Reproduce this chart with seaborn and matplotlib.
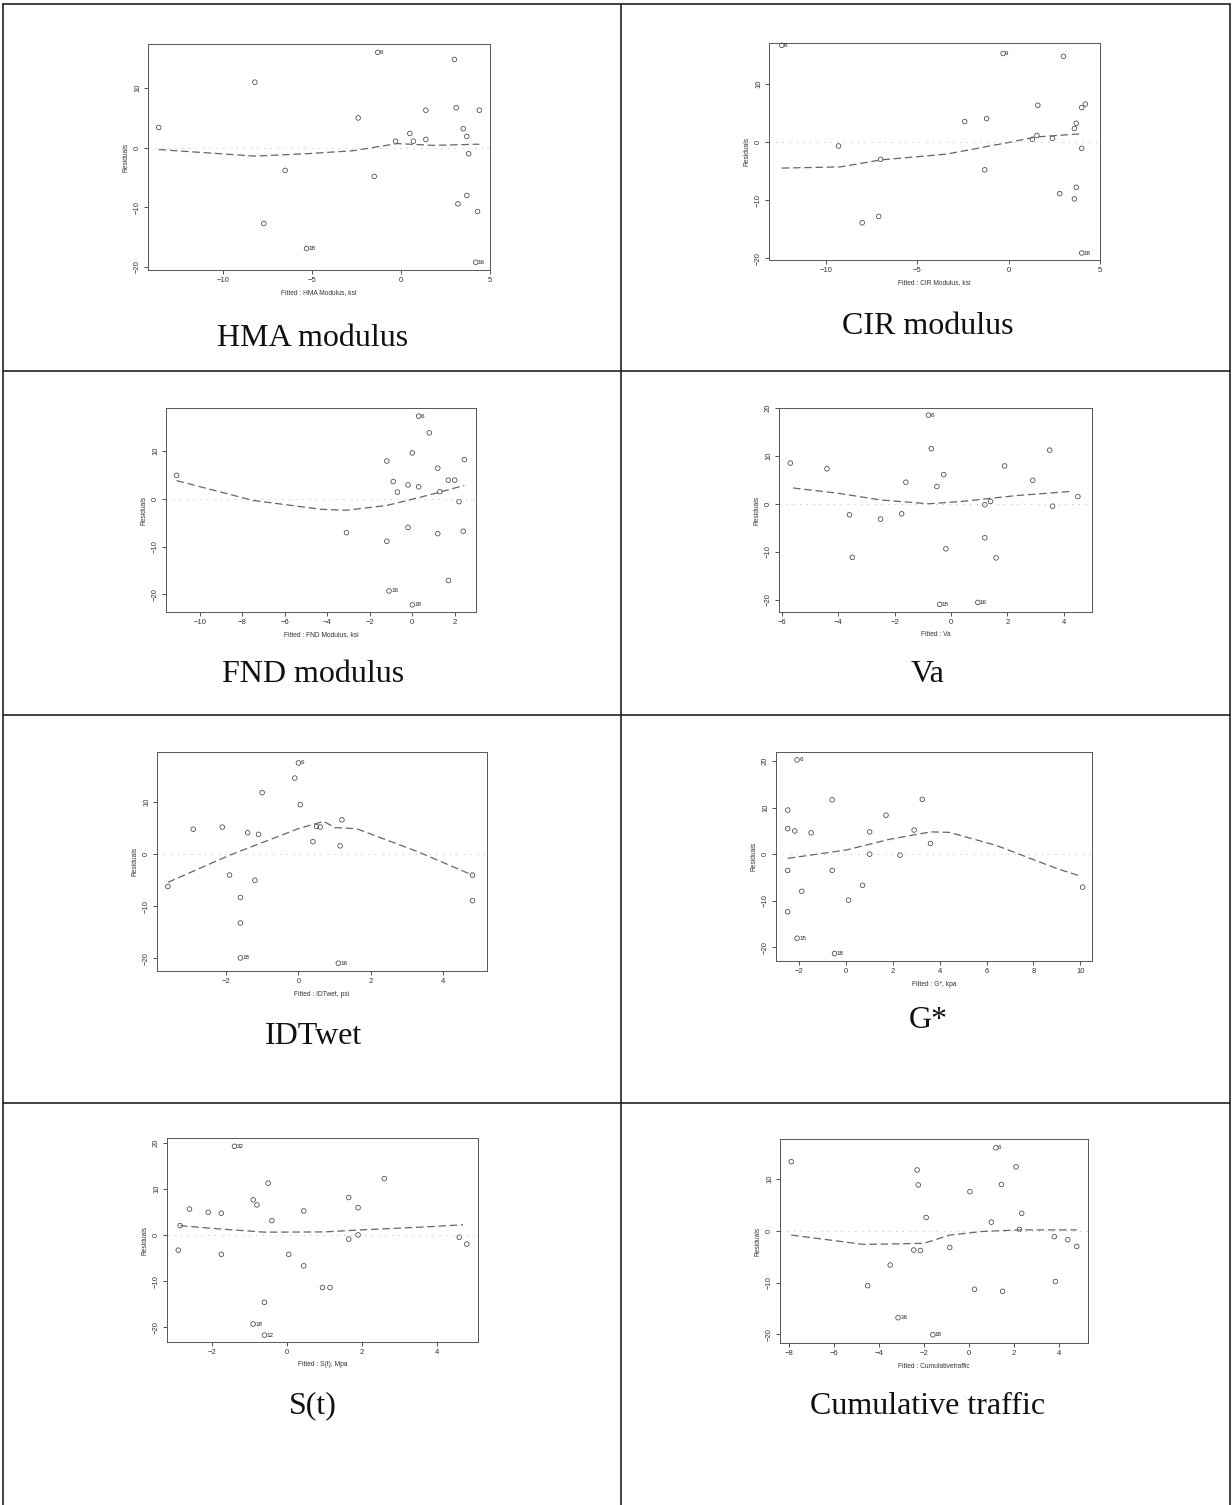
import matplotlib
matplotlib.use("Agg")
import matplotlib.pyplot as plt
import seaborn as sns

# --- data (fitted value, residual) ---
hma_fit = [-13.6, -8.2, -7.7, -6.5, -2.4, -1.5, -0.3, 0.5, 0.7, 1.4, 1.4, 3.0, 3.1, 3.2, 3.5, 3.7, 3.7, 3.8, 4.3, 4.4]
hma_res = [3.4, 11.0, -12.7, -3.8, 5.0, -4.8, 1.1, 2.4, 1.1, 1.4, 6.3, 14.8, 6.7, -9.4, 3.2, 1.9, -8.0, -1.0, -10.7, 6.3]
hma_out_fit = [-1.3, -5.3, 4.2]
hma_out_res = [16.0, -16.9, -19.2]
hma_out_id = ["6", "18", "16"]
hma_lo_x = [-13.6, -8.2, -5.3, -2.7, -0.2, 1.8, 4.4]
hma_lo_y = [-0.3, -1.4, -1.0, -0.5, 0.7, 0.4, 0.6]

cir_fit = [-9.3, -8.0, -7.1, -7.0, -2.4, -1.2, -1.3, 1.3, 1.55, 1.6, 2.4, 2.8, 3.0, 3.6, 3.7, 3.6, 3.7, 4.0, 4.2, 4.0]
cir_res = [-0.7, -13.9, -12.8, -3.0, 3.5, 4.0, -4.8, 0.45, 1.1, 6.3, 0.6, -8.9, 14.7, -9.8, -7.8, 2.3, 3.2, 5.9, 6.5, -1.1]
cir_out_fit = [-12.4, -0.3, 4.0]
cir_out_res = [16.6, 15.2, -19.1]
cir_out_id = ["6", "9", "18"]
cir_lo_x = [-12.4, -9.2, -7.0, -3.4, 0.0, 1.5, 4.0]
cir_lo_y = [-4.5, -4.3, -3.1, -2.1, -0.1, 0.85, 1.4]

fnd_fit = [-11.1, -3.1, -1.2, -0.9, -1.2, -0.7, -0.2, -0.2, 0.0, 0.3, 0.8, 1.2, 1.2, 1.3, 1.7, 2.0, 1.7, 2.2, 2.4, 2.45]
fnd_res = [4.9, -7.1, 7.9, 3.6, -8.9, 1.4, 2.9, -6.0, 9.6, 2.5, 13.8, 6.4, -7.3, 1.5, 3.9, 3.9, -17.1, -0.6, -6.8, 8.2]
fnd_out_fit = [0.3, -1.1, 0.0]
fnd_out_res = [17.3, -19.3, -22.2]
fnd_out_id = ["6", "16", "18"]
fnd_lo_x = [-11.1, -7.5, -4.3, -3.1, -1.2, 0.4, 1.3, 2.45]
fnd_lo_y = [3.8, -0.35, -2.2, -2.4, -1.4, 0.35, 1.4, 2.8]

va_fit = [-5.7, -4.4, -3.6, -3.5, -2.5, -1.75, -1.6, -0.7, -0.5, -0.26, -0.18, 1.2, 1.2, 1.4, 1.6, 1.9, 2.9, 3.5, 3.6, 4.5]
va_res = [8.5, 7.3, -2.3, -11.2, -3.2, -2.1, 4.5, 11.5, 3.6, 6.1, -9.4, -0.2, -7.1, 0.5, -11.3, 7.9, 4.9, 11.2, -0.5, 1.5]
va_out_fit = [-0.8, -0.4, 0.95]
va_out_res = [18.5, -21.0, -20.6]
va_out_id = ["6", "15", "16"]
va_lo_x = [-5.6, -4.0, -2.5, -0.8, 0.4, 2.3, 4.3]
va_lo_y = [3.3, 2.2, 0.8, 0.0, 0.5, 1.7, 2.6]

idt_fit = [-3.6, -2.9, -2.1, -1.9, -1.6, -1.6, -1.4, -1.2, -1.1, -1.0, -0.1, 0.05, 0.4, 0.5, 0.6, 1.2, 1.15, 4.8, 4.8]
idt_res = [-6.2, 4.8, 5.2, -4.0, -8.3, -13.2, 4.1, -5.0, 3.8, 11.8, 14.6, 9.5, 2.4, 5.3, 5.2, 6.6, 1.6, -4.0, -8.9]
idt_out_fit = [0.0, -1.6, 1.1]
idt_out_res = [17.5, -19.9, -20.9]
idt_out_id = ["6", "18", "16"]
idt_lo_x = [-3.6, -1.9, 0.0, 0.7, 1.0, 1.6, 3.3, 4.8]
idt_lo_y = [-5.4, -0.2, 4.9, 6.3, 5.1, 4.9, 0.45, -4.0]

g_fit = [-2.5, -2.5, -2.5, -2.5, -2.2, -1.9, -1.5, -0.6, -0.6, 0.1, 0.7, 1.0, 1.0, 1.7, 2.3, 2.9, 3.25, 3.6, 10.1]
g_res = [9.5, 5.5, -3.5, -12.4, 5.0, -8.0, 4.6, 11.7, -3.5, -9.9, -6.7, 0.0, 4.8, 8.4, -0.2, 5.2, 11.8, 2.3, -7.1]
g_out_fit = [-2.1, -2.1, -0.5]
g_out_res = [20.3, -18.1, -21.4]
g_out_id = ["6", "15", "18"]
g_lo_x = [-2.5, 0.0, 1.85, 3.6, 4.4, 6.4, 9.0, 10.0]
g_lo_y = [-0.9, 0.9, 3.2, 4.8, 4.7, 1.9, -3.1, -4.7]

st_fit = [-2.9, -2.85, -2.6, -2.1, -1.75, -1.75, -0.9, -0.8, -0.5, -0.4, -0.6, 0.05, 0.45, 0.45, 0.95, 1.15, 1.65, 1.65, 1.9, 1.9, 2.6, 4.6, 4.8]
st_res = [-3.3, 2.0, 5.6, 4.9, 4.7, -4.2, 7.6, 6.5, 11.2, 3.1, -14.6, -4.2, 5.2, -6.7, -11.4, -11.4, 8.1, -0.9, 5.9, 0.0, 12.2, -0.5, -2.0]
st_out_fit = [-1.4, -0.9, -0.6]
st_out_res = [19.2, -19.3, -21.7]
st_out_id = ["32", "18", "12"]
st_lo_x = [-2.85, -1.8, -0.6, 1.0, 2.0, 3.6, 4.7]
st_lo_y = [2.0, 1.3, 0.6, 0.65, 1.1, 1.7, 2.2]

ct_fit = [-7.9, -4.5, -3.5, -2.45, -2.3, -2.25, -2.15, -1.9, -0.85, 0.05, 0.25, 1.0, 1.45, 1.5, 2.1, 2.25, 2.35, 3.8, 3.85, 4.4, 4.8]
ct_res = [13.4, -10.6, -6.6, -3.7, 11.8, 8.9, -3.8, 2.6, -3.2, 7.6, -11.3, 1.7, 9.0, -11.7, 12.4, 0.3, 3.4, -1.1, -9.8, -1.7, -3.0]
ct_out_fit = [1.2, -3.15, -1.6]
ct_out_res = [16.1, -16.8, -20.1]
ct_out_id = ["6", "16", "18"]
ct_lo_x = [-7.9, -4.7, -3.2, -2.0, -0.85, 0.6, 2.25, 4.8]
ct_lo_y = [-0.8, -2.6, -2.5, -2.4, -0.8, -0.1, 0.2, 0.2]

captions = ["HMA modulus", "CIR modulus", "FND modulus", "Va",
            "IDTwet", "G*", "S(t)", "Cumulative traffic"]
xlabels = ["Fitted : HMA Modulus, ksi", "Fitted : CIR Modulus, ksi",
           "Fitted : FND Modulus, ksi", "Fitted : Va",
           "Fitted : IDTwet, psi", "Fitted : G*, kpa",
           "Fitted : S(t), Mpa", "Fitted : Cumulativetraffic"]

# --- layout (pixels of the 1232x1505 page) ---
W, H = 1232, 1505
boxes = [(148, 44, 490, 270), (769, 43, 1100, 260),
         (166, 408, 476, 612), (779, 408, 1092, 612),
         (157, 752, 487, 971), (776, 752, 1092, 961),
         (167, 1138, 478, 1342), (780, 1139, 1088, 1343)]
limits = [((-14.2, 5.0), (-20.5, 17.4)), ((-13.1, 5.0), (-20.3, 17.0)),
          ((-11.6, 3.0), (-23.7, 19.0)), ((-6.1, 5.0), (-22.6, 20.0)),
          ((-3.9, 5.2), (-22.4, 19.6)), ((-3.0, 10.5), (-23.0, 22.0)),
          ((-3.2, 5.1), (-23.2, 21.0)), ((-8.4, 5.3), (-21.7, 17.8))]
xticks = [[-10, -5, 0, 5], [-10, -5, 0, 5], [-10, -8, -6, -4, -2, 0, 2],
          [-6, -4, -2, 0, 2, 4], [-2, 0, 2, 4], [-2, 0, 2, 4, 6, 8, 10],
          [-2, 0, 2, 4], [-8, -6, -4, -2, 0, 2, 4]]
yticks = [[-20, -10, 0, 10], [-20, -10, 0, 10], [-20, -10, 0, 10],
          [-20, -10, 0, 10, 20], [-20, -10, 0, 10], [-20, -10, 0, 10, 20],
          [-20, -10, 0, 10, 20], [-20, -10, 0, 10]]
cap_pos = [(313, 338), (928, 326), (313, 674), (928, 674),
           (313, 1036), (928, 1021), (313, 1406), (928, 1406)]

panels = [
    (hma_fit, hma_res, hma_out_fit, hma_out_res, hma_out_id, hma_lo_x, hma_lo_y),
    (cir_fit, cir_res, cir_out_fit, cir_out_res, cir_out_id, cir_lo_x, cir_lo_y),
    (fnd_fit, fnd_res, fnd_out_fit, fnd_out_res, fnd_out_id, fnd_lo_x, fnd_lo_y),
    (va_fit, va_res, va_out_fit, va_out_res, va_out_id, va_lo_x, va_lo_y),
    (idt_fit, idt_res, idt_out_fit, idt_out_res, idt_out_id, idt_lo_x, idt_lo_y),
    (g_fit, g_res, g_out_fit, g_out_res, g_out_id, g_lo_x, g_lo_y),
    (st_fit, st_res, st_out_fit, st_out_res, st_out_id, st_lo_x, st_lo_y),
    (ct_fit, ct_res, ct_out_fit, ct_out_res, ct_out_id, ct_lo_x, ct_lo_y),
]

sns.set_style("ticks")
plt.rcParams["font.family"] = ["Liberation Sans", "DejaVu Sans"]

fig = plt.figure(figsize=(W / 100, H / 100), dpi=100)

# table frame + captions on a background axes in pixel units
bg = fig.add_axes([0, 0, 1, 1])
bg.set_xlim(0, W)
bg.set_ylim(H, 0)
bg.axis("off")
line_kw = dict(color="#222222", lw=1.2)
bg.plot([3, 3], [4, H], **line_kw)
bg.plot([1230, 1230], [4, H], **line_kw)
bg.plot([621, 621], [4, H], **line_kw)
for yy in [4, 371, 715, 1103]:
    bg.plot([3, 1230], [yy, yy], **line_kw)
for cap, (cx, cy) in zip(captions, cap_pos):
    bg.text(cx, cy, cap, ha="center", va="center", fontsize=23,
            family=["Liberation Serif", "DejaVu Serif"], color="#111111")

for i, (fx, rs, ox, oy, oid, lx, ly) in enumerate(panels):
    l, t, r, b = boxes[i]
    ax = fig.add_axes([l / W, 1 - b / H, (r - l) / W, (b - t) / H])

    ax.axhline(0, color="#b8b8b8", lw=0.7, ls=(0, (1, 6)))
    sns.scatterplot(x=fx + ox, y=rs + oy, ax=ax, s=11, color="#444444")
    pts = ax.collections[-1]
    pts.set_facecolor("none")
    pts.set_edgecolor("#444444")
    pts.set_linewidth(0.55)
    pts.set_clip_on(False)
    sns.lineplot(x=lx, y=ly, ax=ax, estimator=None, sort=False,
                 color="#666666", lw=0.9, linestyle=(0, (6, 3)))
    for xx, yy, lab in zip(ox, oy, oid):
        ax.annotate(lab, (xx, yy), xytext=(1.5, 0), textcoords="offset points",
                    fontsize=4.5, va="center", ha="left", color="#222222",
                    annotation_clip=False)

    ax.set_xlim(*limits[i][0])
    ax.set_ylim(*limits[i][1])
    ax.set_xticks(xticks[i])
    ax.set_yticks(yticks[i])
    ax.tick_params(labelsize=5.5, length=3, width=0.6, pad=2, colors="#333333")
    for lab in ax.get_yticklabels():
        lab.set_rotation(90)
        lab.set_va("center")
    ax.set_xlabel(xlabels[i], fontsize=4.8, labelpad=4, color="#333333")
    ax.set_ylabel("Residuals", fontsize=4.8, labelpad=3, color="#333333")
    for sp in ax.spines.values():
        sp.set_visible(True)
        sp.set_linewidth(0.7)
        sp.set_color("#555555")

fig.savefig("out.png", dpi=100)
